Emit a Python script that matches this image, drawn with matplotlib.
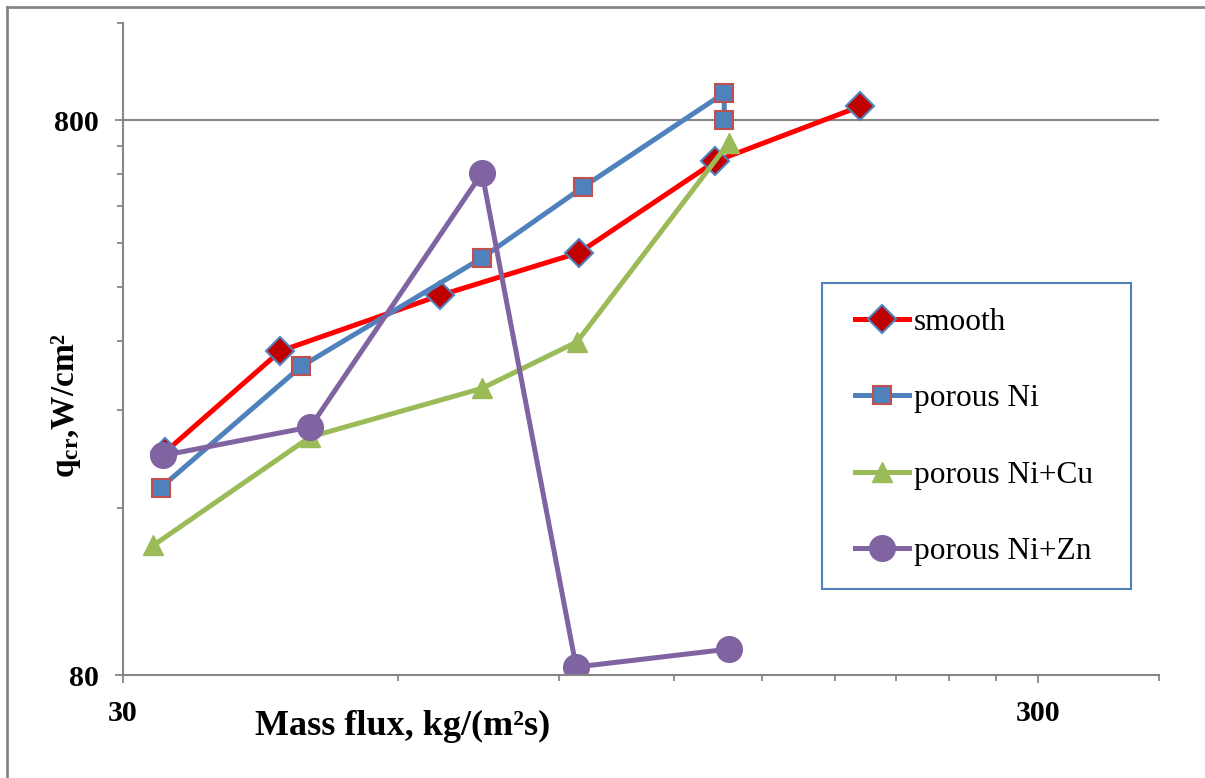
import numpy as np
import matplotlib
matplotlib.use("Agg")
from matplotlib import pyplot as plt
from matplotlib.ticker import FixedLocator, FixedFormatter, NullFormatter
from matplotlib.lines import Line2D
from matplotlib.patches import Rectangle

plt.rcParams["mathtext.fontset"] = "custom"
plt.rcParams["mathtext.bf"] = "Liberation Serif:bold"
plt.rcParams["mathtext.rm"] = "Liberation Serif:bold"
plt.rcParams["mathtext.it"] = "Liberation Serif:bold"

# mass flux G, kg/(m2 s) and critical heat flux q_cr, W/cm2
g_smooth = [33.4, 44.6, 66.7, 94.6, 133.3, 191.9]
q_smooth = [202, 307, 387, 462, 675, 848]

g_ni = [33.0, 47.0, 74.1, 95.6, 136.3, 136.3]
q_ni = [174, 288, 452, 607, 896, 800]

g_nicu = [32.4, 48.1, 74.1, 94.1, 137.8]
q_nicu = [137, 215, 263, 319, 728]

g_nizn = [33.2, 48.1, 74.1, 93.9, 138.0]
q_nizn = [199, 224, 643, 82.7, 89.1]

labels = ["smooth", "porous Ni", "porous Ni+Cu", "porous Ni+Zn"]

x_major = [30, 300]
x_minor = [60, 90, 120, 150, 180, 210, 240, 270, 407]
y_major = [80, 800]
y_minor = [160, 240, 320, 400, 480, 560, 640, 720, 1200]

W, H = 1205, 778
gray = "#868686"
serif = "Liberation Serif"

fig = plt.figure(figsize=(W / 100, H / 100), dpi=100)
ax = fig.add_axes([122.7 / W, 1 - 675 / H, (1159 - 122.7) / W, (675 - 22.7) / H])

ax.plot(g_smooth, q_smooth, color="#FF0000", lw=3.6, marker="D", ms=14.5,
        mfc="#C00000", mec="#4F81BD", mew=1.5, label=labels[0])
ax.plot(g_ni, q_ni, color="#4F81BD", lw=3.6, marker="s", ms=13,
        mfc="#4F81BD", mec="#C0504D", mew=1.5, label=labels[1])
ax.plot(g_nicu, q_nicu, color="#9BBB59", lw=3.6, marker="^", ms=15,
        mfc="#9BBB59", mec="#9BBB59", mew=1, label=labels[2])
ax.plot(g_nizn, q_nizn, color="#8064A2", lw=3.6, marker="o", ms=18.5,
        mfc="#8064A2", mec="#8064A2", mew=1, label=labels[3])

ax.set_xscale("log")
ax.set_yscale("log")
ax.set_xlim(30, 407)
ax.set_ylim(80, 1200)

ax.xaxis.set_major_locator(FixedLocator(x_major))
ax.xaxis.set_major_formatter(FixedFormatter([str(v) for v in x_major]))
ax.xaxis.set_minor_locator(FixedLocator(x_minor))
ax.xaxis.set_minor_formatter(NullFormatter())
ax.yaxis.set_major_locator(FixedLocator(y_major))
ax.yaxis.set_major_formatter(FixedFormatter([str(v) for v in y_major]))
ax.yaxis.set_minor_locator(FixedLocator(y_minor))
ax.yaxis.set_minor_formatter(NullFormatter())

ax.axhline(800, color=gray, lw=1.5, zorder=0)

for s in ["top", "right"]:
    ax.spines[s].set_visible(False)
for s in ["left", "bottom"]:
    ax.spines[s].set_color(gray)
    ax.spines[s].set_linewidth(1.5)

ax.tick_params(which="major", direction="out", length=5.8, width=1.3, color=gray)
ax.tick_params(which="minor", direction="out", length=4.2, width=1.3, color=gray)
ax.tick_params(axis="x", which="major", pad=12)
ax.tick_params(axis="y", which="major", pad=11.5)
for lab in ax.get_xticklabels() + ax.get_yticklabels():
    lab.set_fontfamily(serif)
    lab.set_fontweight("bold")
    lab.set_fontsize(21.5)

fig.text(403 / W, 1 - 726 / H, "Mass flux, kg/(m²s)", family=serif,
         fontweight="bold", fontsize=26, ha="center", va="center")
fig.text(66 / W, 1 - 405 / H, "q$_{\\mathbf{cr}}$,W/cm²", family=serif,
         fontweight="bold", fontsize=24, rotation=90, ha="center", va="center")

# legend entries without frame, box drawn separately
leg = ax.legend(loc="center left", bbox_to_anchor=(855 / W, 1 - 437 / H),
                bbox_transform=fig.transFigure, borderaxespad=0, borderpad=0,
                prop={"family": serif, "size": 22.6}, frameon=False,
                handlelength=1.72, handletextpad=0.16, labelspacing=1.5)
fig.add_artist(Rectangle((822 / W, 1 - 589 / H), (1131 - 822) / W, (589 - 283) / H,
                         transform=fig.transFigure, fill=False,
                         edgecolor="#4F81BD", lw=1.5))

# outer chart frame
fig.add_artist(Line2D([7 / W, 7 / W], [0, 1 - 7 / H], transform=fig.transFigure,
                      color=gray, lw=2))
fig.add_artist(Line2D([7 / W, 1], [1 - 7 / H, 1 - 7 / H], transform=fig.transFigure,
                      color=gray, lw=2))

fig.savefig("out.png", dpi=100)
